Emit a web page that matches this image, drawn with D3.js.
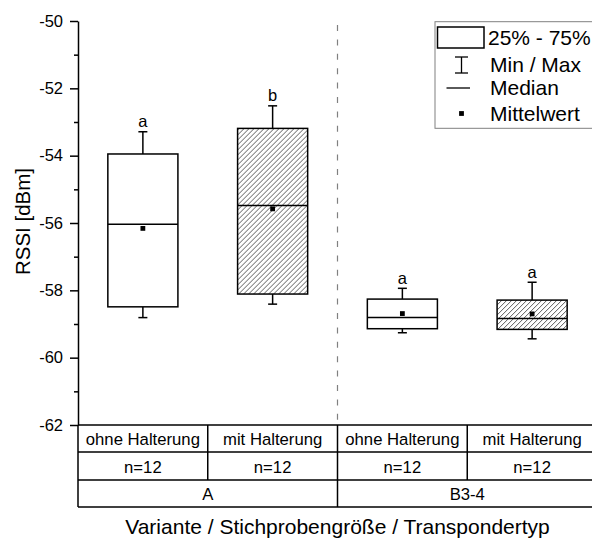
<!DOCTYPE html>
<html>
<head>
<meta charset="utf-8">
<script src="https://cdn.jsdelivr.net/npm/d3@7/dist/d3.min.js"></script>
<style>
  html, body { margin: 0; padding: 0; background: #fff; }
  svg { display: block; font-family: "Liberation Sans", Arial, sans-serif; }
</style>
</head>
<body>
<svg id="chart" width="592" height="538"></svg>
<script>
// Box-plot statistics per configuration (RSSI in dBm)
const holders = ["ohne Halterung", "mit Halterung", "ohne Halterung", "mit Halterung"];
const sampleSizes = ["n=12", "n=12", "n=12", "n=12"];
const transponders = ["A", "B3-4"];
const minValues    = [-58.81, -58.41, -59.26, -59.44];
const q1Values     = [-58.49, -58.11, -59.14, -59.16];
const medianValues = [-56.04, -55.48, -58.81, -58.84];
const q3Values     = [-53.95, -53.19, -58.26, -58.29];
const maxValues    = [-53.29, -52.52, -57.94, -57.76];
const meanValues   = [-56.16, -55.58, -58.69, -58.70];
const groupLetters = ["a", "b", "a", "a"];
const majorTicks = [-62, -60, -58, -56, -54, -52, -50];
const minorTicks = [-61, -59, -57, -55, -53, -51];
const legendLabels = ["25% - 75%", "Min / Max", "Median", "Mittelwert"];

const svg = d3.select("#chart");

const plotLeft = 78, plotTop = 21, plotBottom = 425;
const idx = d3.range(holders.length);

const x = d3.scaleBand().domain(idx).range([plotLeft, plotLeft + 4 * 129.75]).padding(0);
const y = d3.scaleLinear().domain([-62, -50]).range([plotBottom, plotTop]);

// hatch pattern for the "mit Halterung" boxes
const defs = svg.append("defs");
defs.append("pattern")
  .attr("id", "hatch")
  .attr("patternUnits", "userSpaceOnUse")
  .attr("width", 5).attr("height", 5)
  .append("path")
  .attr("d", "M-1,1 l2,-2 M0,5 l5,-5 M4,6 l2,-2")
  .attr("stroke", "#333").attr("stroke-width", 0.8);

// separator between transponder types
const splitX = x(2);
svg.append("line")
  .attr("x1", splitX).attr("x2", splitX)
  .attr("y1", 25).attr("y2", plotBottom)
  .attr("stroke", "#808080").attr("stroke-width", 1.2)
  .attr("stroke-dasharray", "6,8.4");

// y axis: major and minor ticks
const yAxis = d3.axisLeft(y).tickValues(majorTicks).tickSize(8).tickSizeOuter(0)
  .tickPadding(7).tickFormat(d => String(d));
const gy = svg.append("g").attr("transform", `translate(${plotLeft},0)`).call(yAxis);
gy.selectAll("text").attr("font-size", 16.5).attr("fill", "#000")
  .attr("font-family", "Liberation Sans, Arial, sans-serif");
gy.selectAll("line, path").attr("stroke", "#000").attr("stroke-width", 1.5);

const yMinor = d3.axisLeft(y).tickValues(minorTicks).tickSize(4).tickSizeOuter(0).tickFormat("");
const gm = svg.append("g").attr("transform", `translate(${plotLeft},0)`).call(yMinor);
gm.select(".domain").remove();
gm.selectAll("line").attr("stroke", "#000").attr("stroke-width", 1.5);

svg.append("text")
  .attr("transform", `translate(30,221.5) rotate(-90)`)
  .attr("text-anchor", "middle")
  .attr("font-size", 20.5)
  .text("RSSI [dBm]");

// boxes
const boxW = x.bandwidth() * 0.54;
const capW = 9;
const boxes = svg.append("g").selectAll("g").data(idx).join("g")
  .attr("transform", i => `translate(${x(i) + x.bandwidth() / 2},0)`);

// whiskers
boxes.append("line").attr("x1", 0).attr("x2", 0)
  .attr("y1", i => y(q3Values[i])).attr("y2", i => y(maxValues[i]))
  .attr("stroke", "#000").attr("stroke-width", 1.5);
boxes.append("line").attr("x1", 0).attr("x2", 0)
  .attr("y1", i => y(q1Values[i])).attr("y2", i => y(minValues[i]))
  .attr("stroke", "#000").attr("stroke-width", 1.5);
boxes.append("line").attr("x1", -capW / 2).attr("x2", capW / 2)
  .attr("y1", i => y(maxValues[i])).attr("y2", i => y(maxValues[i]))
  .attr("stroke", "#000").attr("stroke-width", 1.5);
boxes.append("line").attr("x1", -capW / 2).attr("x2", capW / 2)
  .attr("y1", i => y(minValues[i])).attr("y2", i => y(minValues[i]))
  .attr("stroke", "#000").attr("stroke-width", 1.5);

// interquartile box
boxes.append("rect")
  .attr("x", -boxW / 2).attr("width", boxW)
  .attr("y", i => y(q3Values[i]))
  .attr("height", i => y(q1Values[i]) - y(q3Values[i]))
  .attr("fill", i => holders[i].startsWith("mit") ? "url(#hatch)" : "#fff")
  .attr("stroke", "#000").attr("stroke-width", 1.5);

// median
boxes.append("line").attr("x1", -boxW / 2).attr("x2", boxW / 2)
  .attr("y1", i => y(medianValues[i])).attr("y2", i => y(medianValues[i]))
  .attr("stroke", "#000").attr("stroke-width", 1.5);

// mean marker
boxes.append("rect")
  .attr("x", -2.4).attr("width", 4.8).attr("height", 4.8)
  .attr("y", i => y(meanValues[i]) - 2.4)
  .attr("fill", "#000");

// significance letters
boxes.append("text")
  .attr("text-anchor", "middle")
  .attr("y", i => y(maxValues[i]) - 4.5)
  .attr("font-size", 16.5)
  .text(i => groupLetters[i]);

// category table below the axis
const rowTops = [425, 452, 480, 507];
const tableRight = 600;
const table = svg.append("g");
rowTops.forEach(r => {
  table.append("line").attr("x1", plotLeft).attr("x2", tableRight)
    .attr("y1", r).attr("y2", r).attr("stroke", "#000").attr("stroke-width", 1.5);
});
table.append("line").attr("x1", plotLeft).attr("x2", plotLeft)
  .attr("y1", rowTops[0]).attr("y2", rowTops[3]).attr("stroke", "#000").attr("stroke-width", 1.5);
[1, 2, 3].forEach(i => {
  table.append("line").attr("x1", x(i)).attr("x2", x(i))
    .attr("y1", rowTops[0]).attr("y2", i === 2 ? rowTops[3] : rowTops[2])
    .attr("stroke", "#000").attr("stroke-width", 1.5);
});

const cellFont = 16.7;
table.selectAll("text.holder").data(idx).join("text")
  .attr("class", "holder")
  .attr("x", i => x(i) + x.bandwidth() / 2)
  .attr("y", (rowTops[0] + rowTops[1]) / 2 + 6.5)
  .attr("text-anchor", "middle").attr("font-size", cellFont)
  .text(i => holders[i]);
table.selectAll("text.n").data(idx).join("text")
  .attr("class", "n")
  .attr("x", i => x(i) + x.bandwidth() / 2)
  .attr("y", (rowTops[1] + rowTops[2]) / 2 + 6.5)
  .attr("text-anchor", "middle").attr("font-size", cellFont)
  .text(i => sampleSizes[i]);
table.selectAll("text.group").data(transponders).join("text")
  .attr("class", "group")
  .attr("x", (d, g) => x(2 * g) + x.bandwidth())
  .attr("y", (rowTops[2] + rowTops[3]) / 2 + 6)
  .attr("text-anchor", "middle").attr("font-size", cellFont)
  .text(d => d);

svg.append("text")
  .attr("x", splitX).attr("y", 533.5)
  .attr("text-anchor", "middle").attr("font-size", 21)
  .text("Variante / Stichprobengröße / Transpondertyp");

// legend
const lg = svg.append("g");
lg.append("rect").attr("x", 435).attr("y", 21.7).attr("width", 180).attr("height", 106.6)
  .attr("fill", "#fff").attr("stroke", "#808080").attr("stroke-width", 1);
const rowY = [37.5, 64.5, 88, 113.5];
lg.append("rect").attr("x", 437.5).attr("y", 27).attr("width", 46.5).attr("height", 21)
  .attr("fill", "#fff").attr("stroke", "#000").attr("stroke-width", 1.5);
const mx = 461.5;
lg.append("line").attr("x1", mx).attr("x2", mx).attr("y1", 57).attr("y2", 73)
  .attr("stroke", "#000").attr("stroke-width", 1.3);
lg.append("line").attr("x1", mx - 6.5).attr("x2", mx + 6.5).attr("y1", 57).attr("y2", 57)
  .attr("stroke", "#000").attr("stroke-width", 1.3);
lg.append("line").attr("x1", mx - 6.5).attr("x2", mx + 6.5).attr("y1", 73).attr("y2", 73)
  .attr("stroke", "#000").attr("stroke-width", 1.3);
lg.append("line").attr("x1", 446.5).attr("x2", 470).attr("y1", rowY[2]).attr("y2", rowY[2])
  .attr("stroke", "#000").attr("stroke-width", 1.3);
lg.append("rect").attr("x", mx - 2.4).attr("y", rowY[3] - 2.4).attr("width", 4.8).attr("height", 4.8)
  .attr("fill", "#000");
lg.selectAll("text").data(legendLabels).join("text")
  .attr("x", (d, i) => i === 0 ? 488 : 490)
  .attr("y", (d, i) => rowY[i] + 7.3)
  .attr("font-size", 21)
  .text(d => d);
</script>
</body>
</html>
